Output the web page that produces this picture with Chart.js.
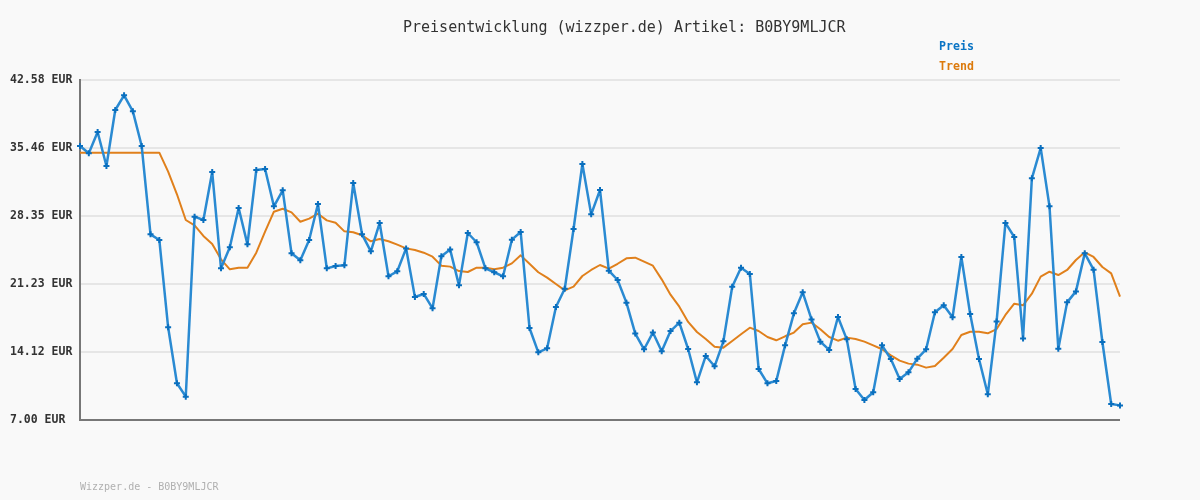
<!DOCTYPE html>
<html lang="de">
<head>
<meta charset="utf-8">
<title>Preisentwicklung B0BY9MLJCR</title>
<script src="https://cdn.jsdelivr.net/npm/chart.js@4/dist/chart.umd.min.js"></script>
<style>
  html, body { margin: 0; padding: 0; background: #f9f9f9; }
  #wrap { width: 1200px; height: 500px; position: relative; }
</style>
</head>
<body>
<div id="wrap"><canvas id="chart" width="1200" height="500"></canvas></div>
<script>
// Werte (119 Messpunkte)
const preis = [
  35.67, 34.91, 37.14, 33.58, 39.44, 40.98, 39.30, 35.67, 26.43, 25.84,
  16.70, 10.84, 9.44, 28.28, 27.93, 32.95, 22.87, 25.07, 29.19, 25.38,
  33.16, 33.27, 29.36, 31.03, 24.44, 23.71, 25.84, 29.60, 22.87, 23.12,
  23.19, 31.80, 26.43, 24.65, 27.62, 22.04, 22.56, 24.96, 19.87, 20.19,
  18.69, 24.13, 24.83, 21.09, 26.57, 25.60, 22.87, 22.46, 22.04, 25.87,
  26.67, 16.63, 14.08, 14.50, 18.83, 20.74, 26.99, 33.79, 28.52, 31.07,
  22.63, 21.65, 19.28, 16.04, 14.40, 16.15, 14.19, 16.31, 17.19, 14.43,
  10.94, 13.70, 12.62, 15.23, 20.95, 22.94, 22.28, 12.34, 10.84, 11.08,
  14.81, 18.16, 20.36, 17.53, 15.20, 14.33, 17.78, 15.44, 10.24, 9.09,
  9.90, 14.81, 13.38, 11.29, 11.99, 13.42, 14.40, 18.27, 19.00, 17.75,
  24.06, 18.09, 13.38, 9.69, 17.32, 27.62, 26.15, 15.54, 32.29, 35.46,
  29.36, 14.46, 19.31, 20.46, 24.44, 22.73, 15.16, 8.67, 8.53
];
const trend = [
  34.98, 34.98, 34.98, 34.98, 34.98, 34.98, 34.98, 34.98, 34.98, 34.98,
  32.99, 30.62, 27.93, 27.37, 26.26, 25.42, 23.81, 22.77, 22.94, 22.94,
  24.51, 26.71, 28.80, 29.11, 28.73, 27.75, 28.07, 28.59, 27.89, 27.65,
  26.74, 26.64, 26.33, 25.70, 25.94, 25.70, 25.35, 24.96, 24.79, 24.51,
  24.09, 23.15, 23.05, 22.59, 22.49, 22.94, 22.94, 22.77, 22.94, 23.39,
  24.23, 23.35, 22.46, 21.90, 21.23, 20.57, 20.95, 22.07, 22.70, 23.22,
  22.84, 23.35, 23.92, 23.99, 23.57, 23.15, 21.72, 20.12, 18.86, 17.26,
  16.21, 15.48, 14.67, 14.57, 15.27, 15.97, 16.66, 16.31, 15.69, 15.34,
  15.76, 16.15, 17.01, 17.19, 16.49, 15.69, 15.30, 15.62, 15.48, 15.20,
  14.81, 14.40, 13.77, 13.21, 12.90, 12.79, 12.48, 12.65, 13.52, 14.43,
  15.90, 16.24, 16.24, 16.07, 16.52, 17.99, 19.17, 19.00, 20.22, 22.00,
  22.52, 22.17, 22.70, 23.74, 24.55, 24.06, 23.01, 22.35, 19.91
];
const tickWerte = [7.00, 14.12, 21.23, 28.35, 35.46, 42.58];
const labels = preis.map((_, i) => i + 1);

const titel = "Preisentwicklung (wizzper.de) Artikel: B0BY9MLJCR";
const fusszeile = "Wizzper.de - B0BY9MLJCR";
const legende = [
  { text: "Preis", farbe: "#0a74c4" },
  { text: "Trend", farbe: "#dc7a0c" }
];

const mono = "'DejaVu Sans Mono', 'Liberation Mono', monospace";

// Titel, Legende und Fusszeile direkt auf die Canvas schreiben
const texte = {
  id: "texte",
  afterDraw(chart) {
    const ctx = chart.ctx;
    ctx.save();
    ctx.textBaseline = "middle";
    ctx.fillStyle = "#333";
    ctx.font = `15px ${mono}`;
    ctx.textAlign = "left";
    ctx.fillText(titel, 403, 28);
    ctx.font = `bold 11.6px ${mono}`;
    legende.forEach((l, i) => {
      ctx.fillStyle = l.farbe;
      ctx.fillText(l.text, 939, 47 + i * 20);
    });
    ctx.font = `10px ${mono}`;
    ctx.fillStyle = "#b0b0b0";
    ctx.fillText(fusszeile, 80, 487);
    ctx.restore();
  }
};

new Chart(document.getElementById("chart"), {
  type: "line",
  data: {
    labels: labels,
    datasets: [
      {
        label: "Trend",
        data: trend,
        borderColor: "#e0801c",
        borderWidth: 2,
        borderJoinStyle: "round",
        pointRadius: 0,
        tension: 0,
        order: 2
      },
      {
        label: "Preis",
        data: preis,
        borderColor: "#2a8ad2",
        borderWidth: 2.5,
        borderJoinStyle: "round",
        pointStyle: "cross",
        pointRadius: 3,
        pointBorderWidth: 2,
        pointBorderColor: "#0a6fbe",
        pointBackgroundColor: "#0a6fbe",
        tension: 0,
        order: 1
      }
    ]
  },
  options: {
    responsive: false,
    animation: false,
    layout: { padding: { top: 80, bottom: 80, left: 10, right: 80 } },
    plugins: {
      legend: { display: false },
      title: { display: false },
      tooltip: { enabled: false }
    },
    scales: {
      x: {
        display: false,
        offset: false
      },
      y: {
        min: 7.00,
        max: 42.58,
        afterBuildTicks: axis => { axis.ticks = tickWerte.map(v => ({ value: v })); },
        afterFit: axis => { axis.width = 70; },
        border: { display: true, color: "#777", width: 2 },
        grid: {
          drawTicks: false,
          lineWidth: 2,
          color: c => (c.tick && c.tick.value === 7.00 ? "#777" : "#e6e6e6")
        },
        ticks: {
          crossAlign: "far",
          padding: 0,
          color: "#333",
          font: { family: mono, size: 11.5, weight: "bold" },
          callback: v => v.toFixed(2) + " EUR"
        }
      }
    }
  },
  plugins: [texte]
});
</script>
</body>
</html>
